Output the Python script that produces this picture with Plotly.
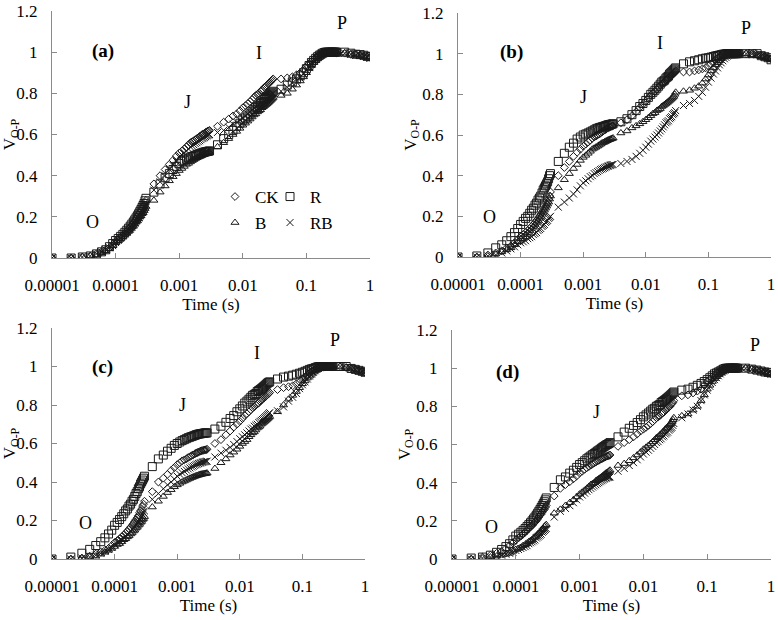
import plotly.graph_objects as go

# ---------------- time axis (s) ----------------
TIME_S = [
    1e-05, 2e-05, 3e-05, 4e-05, 5e-05, 6e-05, 7e-05, 8e-05, 9e-05, 1e-04,
    1.1e-04, 1.2e-04, 1.3e-04, 1.4e-04, 1.5e-04, 1.6e-04, 1.7e-04, 1.8e-04, 1.9e-04, 2e-04,
    2.1e-04, 2.2e-04, 2.3e-04, 2.4e-04, 2.5e-04, 2.6e-04, 2.7e-04, 2.8e-04, 2.9e-04, 3e-04,
    4e-04, 5e-04, 6e-04, 7e-04, 8e-04, 9e-04, 1e-03, 1.1e-03, 1.2e-03, 1.3e-03,
    1.4e-03, 1.5e-03, 1.6e-03, 1.7e-03, 1.8e-03, 1.9e-03, 2e-03, 2.1e-03, 2.2e-03, 2.3e-03,
    2.4e-03, 2.5e-03, 2.6e-03, 2.7e-03, 2.8e-03, 2.9e-03, 3e-03,
    4e-03, 5e-03, 6e-03, 7e-03, 8e-03, 9e-03, 1e-02, 1.1e-02, 1.2e-02, 1.3e-02,
    1.4e-02, 1.5e-02, 1.6e-02, 1.7e-02, 1.8e-02, 1.9e-02, 2e-02, 2.1e-02, 2.2e-02, 2.3e-02,
    2.4e-02, 2.5e-02, 2.6e-02, 2.7e-02, 2.8e-02, 2.9e-02, 3e-02,
    0.04, 0.05, 0.06, 0.07, 0.08, 0.09, 0.10, 0.11, 0.12, 0.13,
    0.14, 0.15, 0.16, 0.17, 0.18, 0.19, 0.20, 0.21, 0.22, 0.23,
    0.24, 0.25, 0.26, 0.27, 0.28, 0.29, 0.30,
    0.4, 0.5, 0.6, 0.7, 0.8, 0.9, 1.0,
]

# ---------------- panel (a) ----------------
A_CK = ([0.00, 0.00, 0.005, 0.01, 0.02, 0.03, 0.04, 0.05, 0.065, 0.08, 0.09, 0.10, 0.11, 0.12, 0.13, 0.14, 0.15, 0.16, 0.17, 0.18, 0.19, 0.20, 0.21, 0.22, 0.23, 0.24, 0.25, 0.26, 0.27, 0.28]
        + [0.36, 0.40, 0.43, 0.455, 0.475, 0.495, 0.51, 0.52, 0.53, 0.54, 0.55, 0.56, 0.565, 0.57, 0.575, 0.58, 0.585, 0.59, 0.595, 0.60, 0.603, 0.606, 0.61, 0.613, 0.616, 0.618, 0.62]
        + [0.64, 0.66, 0.675, 0.69, 0.70, 0.715, 0.73, 0.74, 0.75, 0.76, 0.77, 0.78, 0.79, 0.795, 0.80, 0.81, 0.815, 0.82, 0.83, 0.835, 0.84, 0.845, 0.85, 0.855, 0.86, 0.865, 0.87]
        + [0.87, 0.875, 0.88, 0.89, 0.90, 0.915, 0.93, 0.945, 0.955, 0.965, 0.975, 0.98, 0.985, 0.99, 0.995, 0.998, 1.0, 1.0, 1.0, 1.0, 1.0, 1.0, 1.0, 1.0, 0.998, 0.997, 0.996]
        + [0.995, 0.99, 0.99, 0.985, 0.98, 0.978, 0.975])
A_R = ([0.00, 0.00, 0.005, 0.01, 0.02, 0.03, 0.04, 0.055, 0.07, 0.085, 0.095, 0.105, 0.115, 0.125, 0.135, 0.145, 0.155, 0.165, 0.175, 0.185, 0.195, 0.205, 0.215, 0.225, 0.235, 0.245, 0.255, 0.265, 0.278, 0.29]
       + [0.32, 0.36, 0.39, 0.41, 0.43, 0.445, 0.46, 0.47, 0.475, 0.48, 0.485, 0.49, 0.493, 0.496, 0.499, 0.502, 0.505, 0.507, 0.509, 0.511, 0.513, 0.515, 0.516, 0.517, 0.518, 0.519, 0.52]
       + [0.55, 0.58, 0.60, 0.62, 0.64, 0.655, 0.67, 0.68, 0.69, 0.70, 0.71, 0.72, 0.73, 0.735, 0.74, 0.75, 0.755, 0.76, 0.77, 0.775, 0.78, 0.785, 0.79, 0.795, 0.80, 0.805, 0.81]
       + [0.82, 0.84, 0.855, 0.87, 0.885, 0.90, 0.92, 0.935, 0.95, 0.96, 0.97, 0.978, 0.985, 0.99, 0.995, 0.998, 1.0, 1.0, 1.0, 1.0, 1.0, 1.0, 1.0, 1.0, 1.0, 1.0, 1.0]
       + [1.0, 0.995, 0.99, 0.988, 0.985, 0.98, 0.978])
A_B = ([0.00, 0.00, 0.005, 0.01, 0.015, 0.025, 0.035, 0.045, 0.06, 0.075, 0.085, 0.095, 0.105, 0.115, 0.12, 0.13, 0.14, 0.15, 0.155, 0.165, 0.175, 0.18, 0.19, 0.20, 0.205, 0.215, 0.22, 0.23, 0.24, 0.25]
       + [0.28, 0.32, 0.35, 0.375, 0.395, 0.41, 0.425, 0.435, 0.445, 0.455, 0.46, 0.467, 0.473, 0.478, 0.483, 0.487, 0.49, 0.493, 0.496, 0.499, 0.502, 0.504, 0.506, 0.508, 0.51, 0.512, 0.514]
       + [0.54, 0.56, 0.58, 0.60, 0.615, 0.63, 0.645, 0.655, 0.665, 0.675, 0.685, 0.695, 0.70, 0.71, 0.715, 0.72, 0.73, 0.735, 0.74, 0.745, 0.75, 0.755, 0.76, 0.765, 0.77, 0.775, 0.78]
       + [0.79, 0.80, 0.82, 0.84, 0.86, 0.88, 0.90, 0.92, 0.935, 0.95, 0.96, 0.97, 0.98, 0.985, 0.99, 0.995, 1.0, 1.0, 1.0, 1.0, 1.0, 1.0, 1.0, 1.0, 1.0, 1.0, 1.0]
       + [0.995, 0.99, 0.988, 0.985, 0.98, 0.978, 0.975])
A_RB = ([0.00, 0.00, 0.005, 0.01, 0.02, 0.03, 0.04, 0.05, 0.06, 0.075, 0.085, 0.095, 0.105, 0.115, 0.125, 0.135, 0.14, 0.15, 0.16, 0.17, 0.18, 0.19, 0.195, 0.205, 0.215, 0.225, 0.23, 0.24, 0.25, 0.26]
        + [0.33, 0.37, 0.40, 0.43, 0.45, 0.47, 0.49, 0.50, 0.51, 0.52, 0.53, 0.54, 0.545, 0.55, 0.555, 0.56, 0.565, 0.57, 0.575, 0.58, 0.583, 0.586, 0.59, 0.593, 0.596, 0.598, 0.60]
        + [0.61, 0.62, 0.635, 0.65, 0.66, 0.67, 0.68, 0.69, 0.70, 0.71, 0.72, 0.73, 0.735, 0.74, 0.745, 0.75, 0.755, 0.76, 0.765, 0.77, 0.775, 0.78, 0.785, 0.79, 0.795, 0.80, 0.80]
        + [0.81, 0.83, 0.85, 0.865, 0.88, 0.895, 0.91, 0.925, 0.94, 0.955, 0.965, 0.975, 0.98, 0.988, 0.993, 0.997, 1.0, 1.0, 1.0, 1.0, 1.0, 1.0, 1.0, 1.0, 1.0, 1.0, 1.0]
        + [0.995, 0.99, 0.985, 0.985, 0.98, 0.975, 0.97])

# ---------------- panel (b) ----------------
B_CK = ([0.00, 0.00, 0.01, 0.02, 0.03, 0.045, 0.055, 0.07, 0.085, 0.10, 0.11, 0.12, 0.13, 0.14, 0.15, 0.16, 0.17, 0.18, 0.19, 0.20, 0.21, 0.22, 0.23, 0.24, 0.25, 0.26, 0.27, 0.285, 0.30, 0.32]
        + [0.40, 0.44, 0.47, 0.495, 0.515, 0.53, 0.545, 0.555, 0.565, 0.575, 0.585, 0.59, 0.595, 0.60, 0.605, 0.61, 0.615, 0.62, 0.624, 0.628, 0.632, 0.635, 0.638, 0.64, 0.642, 0.644, 0.645]
        + [0.66, 0.675, 0.695, 0.715, 0.735, 0.75, 0.765, 0.78, 0.795, 0.805, 0.815, 0.825, 0.835, 0.845, 0.85, 0.855, 0.86, 0.87, 0.875, 0.88, 0.885, 0.89, 0.895, 0.90, 0.905, 0.91, 0.915]
        + [0.91, 0.91, 0.915, 0.92, 0.925, 0.93, 0.94, 0.95, 0.96, 0.97, 0.978, 0.985, 0.99, 0.994, 0.997, 0.999, 1.0, 1.0, 1.0, 1.0, 1.0, 1.0, 1.0, 1.0, 1.0, 1.0, 1.0]
        + [1.0, 1.0, 0.995, 0.99, 0.985, 0.98, 0.975])
B_R = ([0.00, 0.005, 0.02, 0.045, 0.06, 0.08, 0.10, 0.12, 0.14, 0.16, 0.175, 0.19, 0.20, 0.215, 0.23, 0.24, 0.255, 0.265, 0.28, 0.29, 0.30, 0.315, 0.33, 0.34, 0.35, 0.36, 0.37, 0.385, 0.40, 0.41]
       + [0.47, 0.51, 0.54, 0.56, 0.58, 0.59, 0.60, 0.605, 0.61, 0.615, 0.62, 0.625, 0.63, 0.633, 0.636, 0.638, 0.64, 0.642, 0.644, 0.646, 0.648, 0.65, 0.651, 0.652, 0.653, 0.654, 0.655]
       + [0.665, 0.68, 0.70, 0.72, 0.74, 0.755, 0.77, 0.785, 0.80, 0.81, 0.82, 0.83, 0.84, 0.85, 0.86, 0.865, 0.87, 0.88, 0.885, 0.89, 0.90, 0.905, 0.91, 0.915, 0.92, 0.925, 0.93]
       + [0.95, 0.96, 0.965, 0.97, 0.975, 0.978, 0.98, 0.983, 0.986, 0.989, 0.991, 0.993, 0.995, 0.997, 0.998, 0.999, 1.0, 1.0, 1.0, 1.0, 1.0, 1.0, 1.0, 1.0, 1.0, 1.0, 1.0]
       + [1.0, 1.0, 1.0, 0.99, 0.985, 0.98, 0.97])
B_B = ([0.00, 0.00, 0.005, 0.015, 0.025, 0.035, 0.045, 0.06, 0.075, 0.09, 0.10, 0.11, 0.12, 0.13, 0.14, 0.15, 0.16, 0.17, 0.18, 0.19, 0.20, 0.21, 0.22, 0.23, 0.24, 0.25, 0.26, 0.27, 0.285, 0.30]
       + [0.34, 0.38, 0.41, 0.435, 0.455, 0.475, 0.49, 0.50, 0.51, 0.52, 0.53, 0.535, 0.54, 0.545, 0.55, 0.555, 0.56, 0.563, 0.566, 0.569, 0.572, 0.575, 0.577, 0.579, 0.581, 0.583, 0.585]
       + [0.61, 0.62, 0.635, 0.645, 0.655, 0.665, 0.675, 0.685, 0.695, 0.705, 0.71, 0.72, 0.725, 0.73, 0.74, 0.745, 0.75, 0.755, 0.76, 0.765, 0.77, 0.775, 0.78, 0.785, 0.79, 0.80, 0.81]
       + [0.815, 0.82, 0.83, 0.84, 0.855, 0.875, 0.895, 0.915, 0.93, 0.945, 0.955, 0.965, 0.975, 0.982, 0.988, 0.993, 0.997, 1.0, 1.0, 1.0, 1.0, 1.0, 1.0, 1.0, 1.0, 1.0, 1.0]
       + [1.0, 0.995, 0.99, 0.985, 0.98, 0.975, 0.97])
B_RB = ([0.00, 0.00, 0.005, 0.01, 0.02, 0.03, 0.04, 0.05, 0.06, 0.07, 0.075, 0.08, 0.09, 0.095, 0.10, 0.11, 0.115, 0.12, 0.13, 0.135, 0.14, 0.15, 0.155, 0.16, 0.17, 0.175, 0.18, 0.19, 0.195, 0.20]
        + [0.245, 0.27, 0.29, 0.31, 0.33, 0.35, 0.365, 0.375, 0.385, 0.395, 0.40, 0.41, 0.415, 0.42, 0.425, 0.43, 0.433, 0.436, 0.439, 0.442, 0.445, 0.447, 0.449, 0.451, 0.453, 0.454, 0.455]
        + [0.46, 0.47, 0.48, 0.495, 0.51, 0.525, 0.54, 0.555, 0.57, 0.58, 0.59, 0.60, 0.61, 0.62, 0.63, 0.64, 0.65, 0.66, 0.665, 0.67, 0.68, 0.685, 0.69, 0.70, 0.705, 0.71, 0.72]
        + [0.745, 0.755, 0.77, 0.79, 0.81, 0.835, 0.86, 0.88, 0.90, 0.915, 0.93, 0.945, 0.955, 0.965, 0.975, 0.982, 0.988, 0.992, 0.995, 0.998, 1.0, 1.0, 1.0, 1.0, 1.0, 1.0, 1.0]
        + [1.0, 1.0, 0.995, 0.99, 0.985, 0.98, 0.975])

# ---------------- panel (c) ----------------
C_CK = ([0.00, 0.00, 0.005, 0.015, 0.025, 0.035, 0.045, 0.055, 0.07, 0.085, 0.095, 0.105, 0.115, 0.125, 0.135, 0.145, 0.155, 0.165, 0.175, 0.185, 0.195, 0.205, 0.215, 0.225, 0.24, 0.25, 0.26, 0.275, 0.285, 0.30]
        + [0.35, 0.40, 0.42, 0.44, 0.46, 0.475, 0.49, 0.50, 0.51, 0.515, 0.52, 0.527, 0.532, 0.537, 0.541, 0.545, 0.55, 0.553, 0.556, 0.559, 0.561, 0.563, 0.565, 0.566, 0.567, 0.568, 0.57]
        + [0.60, 0.62, 0.645, 0.665, 0.685, 0.70, 0.715, 0.73, 0.745, 0.755, 0.765, 0.775, 0.785, 0.79, 0.80, 0.805, 0.81, 0.82, 0.825, 0.83, 0.835, 0.84, 0.845, 0.85, 0.855, 0.86, 0.865]
        + [0.88, 0.89, 0.895, 0.90, 0.91, 0.92, 0.935, 0.945, 0.955, 0.965, 0.975, 0.98, 0.985, 0.99, 0.995, 0.998, 1.0, 1.0, 1.0, 1.0, 1.0, 1.0, 1.0, 1.0, 1.0, 1.0, 1.0]
        + [1.0, 0.995, 0.99, 0.985, 0.98, 0.975, 0.97])
C_R = ([0.00, 0.01, 0.03, 0.05, 0.07, 0.09, 0.11, 0.13, 0.15, 0.175, 0.19, 0.205, 0.22, 0.235, 0.25, 0.26, 0.275, 0.285, 0.30, 0.31, 0.325, 0.34, 0.35, 0.365, 0.375, 0.39, 0.40, 0.41, 0.42, 0.43]
       + [0.48, 0.52, 0.54, 0.56, 0.575, 0.59, 0.60, 0.608, 0.615, 0.62, 0.625, 0.63, 0.633, 0.636, 0.639, 0.642, 0.645, 0.647, 0.649, 0.65, 0.651, 0.652, 0.653, 0.654, 0.655, 0.655, 0.655]
       + [0.675, 0.69, 0.71, 0.73, 0.745, 0.765, 0.78, 0.795, 0.81, 0.82, 0.83, 0.84, 0.85, 0.855, 0.86, 0.87, 0.875, 0.88, 0.885, 0.89, 0.895, 0.90, 0.905, 0.91, 0.915, 0.918, 0.92]
       + [0.935, 0.945, 0.95, 0.955, 0.96, 0.965, 0.97, 0.975, 0.98, 0.985, 0.988, 0.99, 0.994, 0.997, 0.999, 1.0, 1.0, 1.0, 1.0, 1.0, 1.0, 1.0, 1.0, 1.0, 1.0, 1.0, 1.0]
       + [1.0, 1.0, 0.99, 0.985, 0.98, 0.975, 0.97])
C_B = ([0.00, 0.00, 0.005, 0.01, 0.015, 0.025, 0.035, 0.045, 0.055, 0.065, 0.075, 0.08, 0.09, 0.10, 0.105, 0.115, 0.12, 0.13, 0.135, 0.145, 0.15, 0.16, 0.165, 0.175, 0.18, 0.19, 0.195, 0.205, 0.21, 0.22]
       + [0.27, 0.30, 0.325, 0.345, 0.36, 0.375, 0.385, 0.393, 0.40, 0.405, 0.41, 0.415, 0.419, 0.423, 0.426, 0.429, 0.432, 0.434, 0.436, 0.438, 0.44, 0.441, 0.442, 0.443, 0.444, 0.445, 0.446]
       + [0.47, 0.50, 0.52, 0.54, 0.555, 0.57, 0.585, 0.60, 0.61, 0.62, 0.635, 0.645, 0.655, 0.66, 0.67, 0.68, 0.685, 0.69, 0.70, 0.705, 0.71, 0.715, 0.72, 0.725, 0.73, 0.735, 0.74]
       + [0.765, 0.80, 0.83, 0.85, 0.87, 0.89, 0.91, 0.925, 0.94, 0.95, 0.96, 0.97, 0.977, 0.984, 0.99, 0.994, 0.997, 1.0, 1.0, 1.0, 1.0, 1.0, 1.0, 1.0, 1.0, 1.0, 1.0]
       + [1.0, 0.995, 0.99, 0.985, 0.98, 0.975, 0.965])
C_RB = ([0.00, 0.00, 0.005, 0.01, 0.02, 0.03, 0.04, 0.05, 0.06, 0.075, 0.085, 0.09, 0.10, 0.11, 0.12, 0.13, 0.135, 0.145, 0.155, 0.16, 0.17, 0.18, 0.19, 0.195, 0.205, 0.215, 0.22, 0.23, 0.24, 0.25]
        + [0.31, 0.34, 0.365, 0.385, 0.40, 0.415, 0.43, 0.44, 0.448, 0.455, 0.462, 0.468, 0.473, 0.478, 0.482, 0.486, 0.49, 0.493, 0.496, 0.498, 0.50, 0.502, 0.504, 0.505, 0.506, 0.507, 0.508]
        + [0.53, 0.55, 0.565, 0.58, 0.595, 0.61, 0.625, 0.635, 0.645, 0.655, 0.665, 0.675, 0.68, 0.69, 0.695, 0.70, 0.71, 0.715, 0.72, 0.725, 0.73, 0.735, 0.74, 0.745, 0.75, 0.755, 0.76]
        + [0.77, 0.79, 0.82, 0.84, 0.86, 0.885, 0.905, 0.92, 0.935, 0.95, 0.96, 0.97, 0.978, 0.985, 0.99, 0.994, 0.997, 1.0, 1.0, 1.0, 1.0, 1.0, 1.0, 1.0, 1.0, 1.0, 1.0]
        + [1.0, 0.995, 0.99, 0.985, 0.98, 0.975, 0.97])

# ---------------- panel (d) ----------------
D_CK = ([0.00, 0.00, 0.01, 0.02, 0.03, 0.04, 0.055, 0.07, 0.085, 0.10, 0.11, 0.12, 0.13, 0.14, 0.15, 0.16, 0.17, 0.175, 0.185, 0.195, 0.20, 0.21, 0.22, 0.23, 0.235, 0.245, 0.255, 0.26, 0.27, 0.28]
        + [0.33, 0.37, 0.39, 0.405, 0.42, 0.435, 0.45, 0.46, 0.47, 0.478, 0.485, 0.492, 0.498, 0.503, 0.508, 0.513, 0.517, 0.521, 0.525, 0.528, 0.531, 0.534, 0.537, 0.539, 0.541, 0.543, 0.545]
        + [0.59, 0.61, 0.625, 0.64, 0.655, 0.67, 0.68, 0.69, 0.70, 0.71, 0.72, 0.73, 0.74, 0.745, 0.75, 0.76, 0.765, 0.77, 0.78, 0.785, 0.79, 0.795, 0.80, 0.81, 0.815, 0.82, 0.83]
        + [0.855, 0.86, 0.87, 0.88, 0.89, 0.91, 0.93, 0.94, 0.955, 0.965, 0.975, 0.98, 0.985, 0.99, 0.995, 0.998, 1.0, 1.0, 1.0, 1.0, 1.0, 1.0, 1.0, 1.0, 1.0, 1.0, 1.0]
        + [1.0, 0.995, 0.99, 0.985, 0.98, 0.975, 0.97])
D_R = ([0.00, 0.005, 0.01, 0.02, 0.035, 0.05, 0.065, 0.08, 0.10, 0.12, 0.13, 0.14, 0.15, 0.16, 0.17, 0.18, 0.19, 0.20, 0.21, 0.22, 0.23, 0.24, 0.25, 0.26, 0.27, 0.28, 0.29, 0.30, 0.31, 0.32]
       + [0.375, 0.415, 0.43, 0.45, 0.465, 0.48, 0.495, 0.505, 0.515, 0.525, 0.533, 0.54, 0.547, 0.553, 0.559, 0.565, 0.57, 0.575, 0.58, 0.585, 0.589, 0.593, 0.597, 0.60, 0.603, 0.606, 0.61]
       + [0.64, 0.665, 0.685, 0.70, 0.715, 0.73, 0.745, 0.755, 0.765, 0.775, 0.785, 0.79, 0.80, 0.805, 0.81, 0.82, 0.825, 0.83, 0.835, 0.84, 0.845, 0.85, 0.855, 0.86, 0.865, 0.87, 0.875]
       + [0.885, 0.89, 0.90, 0.91, 0.92, 0.93, 0.94, 0.95, 0.96, 0.97, 0.975, 0.98, 0.985, 0.99, 0.995, 0.998, 1.0, 1.0, 1.0, 1.0, 1.0, 1.0, 1.0, 1.0, 1.0, 1.0, 1.0]
       + [1.0, 0.995, 0.99, 0.985, 0.98, 0.978, 0.975])
D_B = ([0.00, 0.00, 0.005, 0.01, 0.015, 0.02, 0.025, 0.03, 0.04, 0.05, 0.055, 0.06, 0.07, 0.075, 0.08, 0.09, 0.095, 0.10, 0.11, 0.115, 0.12, 0.13, 0.135, 0.14, 0.15, 0.155, 0.16, 0.17, 0.175, 0.18]
       + [0.24, 0.26, 0.28, 0.295, 0.31, 0.325, 0.34, 0.35, 0.36, 0.37, 0.38, 0.39, 0.395, 0.40, 0.41, 0.415, 0.42, 0.425, 0.43, 0.435, 0.44, 0.445, 0.45, 0.453, 0.457, 0.461, 0.465]
       + [0.49, 0.50, 0.515, 0.53, 0.545, 0.56, 0.575, 0.585, 0.595, 0.605, 0.615, 0.625, 0.635, 0.64, 0.65, 0.655, 0.665, 0.67, 0.68, 0.685, 0.69, 0.70, 0.705, 0.71, 0.72, 0.73, 0.74]
       + [0.75, 0.76, 0.78, 0.80, 0.83, 0.86, 0.89, 0.91, 0.93, 0.945, 0.955, 0.965, 0.975, 0.982, 0.988, 0.993, 0.997, 1.0, 1.0, 1.0, 1.0, 1.0, 1.0, 1.0, 1.0, 1.0, 1.0]
       + [1.0, 0.995, 0.99, 0.985, 0.98, 0.975, 0.97])
D_RB = ([0.00, 0.00, 0.005, 0.01, 0.015, 0.02, 0.025, 0.03, 0.035, 0.045, 0.05, 0.055, 0.06, 0.065, 0.07, 0.08, 0.085, 0.09, 0.095, 0.10, 0.11, 0.115, 0.12, 0.125, 0.13, 0.14, 0.145, 0.15, 0.155, 0.16]
        + [0.22, 0.25, 0.265, 0.28, 0.295, 0.31, 0.325, 0.335, 0.345, 0.355, 0.363, 0.37, 0.377, 0.383, 0.389, 0.395, 0.40, 0.405, 0.41, 0.414, 0.418, 0.421, 0.424, 0.426, 0.428, 0.429, 0.43]
        + [0.46, 0.475, 0.49, 0.505, 0.52, 0.535, 0.55, 0.56, 0.57, 0.58, 0.59, 0.60, 0.61, 0.615, 0.625, 0.63, 0.64, 0.645, 0.655, 0.66, 0.665, 0.675, 0.68, 0.685, 0.69, 0.70, 0.71]
        + [0.74, 0.76, 0.78, 0.80, 0.83, 0.86, 0.885, 0.905, 0.925, 0.94, 0.95, 0.96, 0.97, 0.978, 0.985, 0.99, 0.995, 0.998, 1.0, 1.0, 1.0, 1.0, 1.0, 1.0, 1.0, 1.0, 1.0]
        + [1.0, 0.995, 0.99, 0.985, 0.98, 0.975, 0.97])

SERIES_NAMES = ["CK", "R", "B", "RB"]
SYMBOLS = {"CK": "diamond-open", "R": "square-open", "B": "triangle-up-open", "RB": "x-thin-open"}
SIZES = {"CK": 6, "R": 8, "B": 7, "RB": 7}

PANELS = [
    {"tag": "(a)", "data": [A_CK, A_R, A_B, A_RB]},
    {"tag": "(b)", "data": [B_CK, B_R, B_B, B_RB]},
    {"tag": "(c)", "data": [C_CK, C_R, C_B, C_RB]},
    {"tag": "(d)", "data": [D_CK, D_R, D_B, D_RB]},
]

# phase labels per panel: (text, log10 x, y)
PHASE_LABELS = [
    [("O", -4.37, 0.173), ("J", -2.87, 0.758), ("I", -1.74, 0.998), ("P", -0.44, 1.143)],
    [("O", -4.49, 0.197), ("J", -3.0, 0.787), ("I", -1.78, 1.053), ("P", -0.40, 1.126)],
    [("O", -4.46, 0.187), ("J", -2.92, 0.80), ("I", -1.73, 1.07), ("P", -0.48, 1.138)],
    [("O", -4.38, 0.168), ("J", -2.74, 0.77), ("P", -0.25, 1.12)],
]
TAG_POS = [(-4.20, 1.008), (-4.14, 1.008), (-4.20, 0.997), (-4.13, 0.98)]

X_TICKS = [1e-05, 1e-04, 1e-03, 1e-02, 1e-01, 1]
X_TICKTEXT = ["0.00001", "0.0001", "0.001", "0.01", "0.1", "1"]
Y_TICKS = [0, 0.2, 0.4, 0.6, 0.8, 1.0, 1.2]
Y_TICKTEXT = ["0", "0.2", "0.4", "0.6", "0.8", "1", "1.2"]

W, H = 778, 620
# plot-area pixel boxes: (x0, x1, ytop, ybottom)
BOXES = [(52, 370, 11, 258), (458, 771, 13, 257), (52, 365, 328, 559), (452, 771, 330, 559)]
# legend symbol pixel positions in panel (a): name -> (x, y)
LEGEND_POS = {"CK": (234, 197), "R": (289, 197), "B": (234, 223), "RB": (289, 223)}
LEGEND_ID = {"CK": "legend", "R": "legend2", "B": "legend3", "RB": "legend4"}

FONT = "Liberation Serif, Times New Roman, serif"
INK = "#1a1a1a"
AXIS_GREY = "#8a8a8a"

fig = go.Figure()
layout = dict(
    width=W, height=H,
    margin=dict(l=0, r=0, t=0, b=0),
    paper_bgcolor="white", plot_bgcolor="white",
    font=dict(family=FONT, size=17, color="black"),
    showlegend=True,
    annotations=[],
)

for i, panel in enumerate(PANELS):
    n = "" if i == 0 else str(i + 1)
    xa, ya = "x" + n, "y" + n
    for name, vals in zip(SERIES_NAMES, panel["data"]):
        assert len(vals) == len(TIME_S), (panel["tag"], name, len(vals))
        fig.add_trace(go.Scatter(
            x=TIME_S, y=vals, mode="markers", name=name,
            xaxis=xa, yaxis=ya,
            marker=dict(symbol=SYMBOLS[name], size=SIZES[name], color=INK,
                        line=dict(color=INK, width=1)),
            showlegend=(i == 0),
            legend=LEGEND_ID[name],
        ))
    x0, x1, yt, yb = BOXES[i]
    layout["xaxis" + n] = dict(
        type="log", range=[-5, 0], domain=[x0 / W, x1 / W], anchor=ya,
        tickvals=X_TICKS, ticktext=X_TICKTEXT, ticks="inside", ticklen=5,
        tickcolor=AXIS_GREY, showline=True, linecolor=AXIS_GREY, linewidth=1,
        showgrid=False, zeroline=False, tickfont=dict(size=17, family=FONT),
        title=dict(text="Time (s)", font=dict(size=17, family=FONT), standoff=0),
        automargin=False, ticklabelstandoff=12,
    )
    layout["yaxis" + n] = dict(
        range=[0, 1.2], domain=[1 - yb / H, 1 - yt / H], anchor=xa,
        tickvals=Y_TICKS, ticktext=Y_TICKTEXT, ticks="inside", ticklen=5,
        tickcolor=AXIS_GREY, showline=True, linecolor=AXIS_GREY, linewidth=1,
        showgrid=False, zeroline=False, tickfont=dict(size=17, family=FONT),
        title=dict(text="V<sub>O-P</sub>", font=dict(size=17, family=FONT), standoff=0),
        automargin=False, ticklabelstandoff=10,
    )
    for txt, lx, ly in PHASE_LABELS[i]:
        layout["annotations"].append(dict(
            x=lx, y=ly, xref=xa, yref=ya, text=txt, showarrow=False,
            font=dict(size=18, family=FONT, color="black")))
    tx, ty = TAG_POS[i]
    layout["annotations"].append(dict(
        x=tx, y=ty, xref=xa, yref=ya, text="<b>" + panel["tag"] + "</b>", showarrow=False,
        font=dict(size=19, family=FONT, color="black")))

for name in SERIES_NAMES:
    px, py = LEGEND_POS[name]
    layout[LEGEND_ID[name]] = dict(
        x=(px - 19) / W, y=1 - py / H, xanchor="left", yanchor="middle",
        bgcolor="rgba(0,0,0,0)", font=dict(size=17, family=FONT), itemwidth=30)

fig.update_layout(**layout)
# remove the browser's default 8px body margin so the figure sits at the page origin
fig.write_html("out.html", config={"displayModeBar": False},
               post_script="document.body.style.margin='0px';")
